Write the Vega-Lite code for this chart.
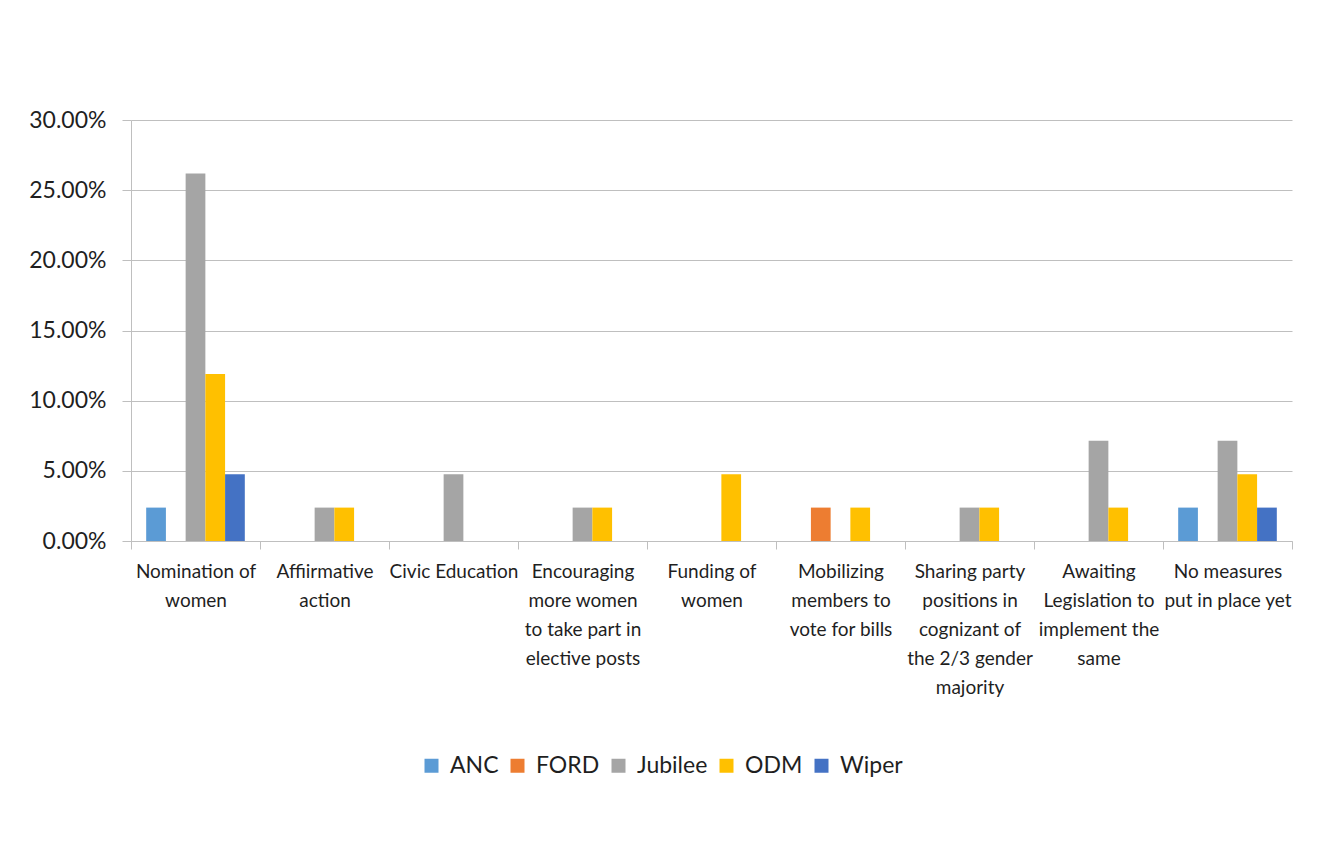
{
  "$schema": "https://vega.github.io/schema/vega-lite/v6.json",
  "width": 1161,
  "height": 421,
  "autosize": {"type": "none"},
  "padding": {"left": 131, "top": 120, "right": 51, "bottom": 300},
  "background": "white",
  "config": {"view": {"stroke": null}, "font": "Lato"},
  "data": {
    "values": [
      {"measure": "Nomination of women", "party": "ANC", "share": 0.0238},
      {"measure": "Nomination of women", "party": "Jubilee", "share": 0.2619},
      {"measure": "Nomination of women", "party": "ODM", "share": 0.119},
      {"measure": "Nomination of women", "party": "Wiper", "share": 0.0476},
      {"measure": "Affiirmative action", "party": "Jubilee", "share": 0.0238},
      {"measure": "Affiirmative action", "party": "ODM", "share": 0.0238},
      {"measure": "Civic Education", "party": "Jubilee", "share": 0.0476},
      {"measure": "Encouraging more women to take part in elective posts", "party": "Jubilee", "share": 0.0238},
      {"measure": "Encouraging more women to take part in elective posts", "party": "ODM", "share": 0.0238},
      {"measure": "Funding of women", "party": "ODM", "share": 0.0476},
      {"measure": "Mobilizing members to vote for bills", "party": "FORD", "share": 0.0238},
      {"measure": "Mobilizing members to vote for bills", "party": "ODM", "share": 0.0238},
      {"measure": "Sharing party positions in cognizant of the 2/3 gender majority", "party": "Jubilee", "share": 0.0238},
      {"measure": "Sharing party positions in cognizant of the 2/3 gender majority", "party": "ODM", "share": 0.0238},
      {"measure": "Awaiting Legislation to implement the same", "party": "Jubilee", "share": 0.0714},
      {"measure": "Awaiting Legislation to implement the same", "party": "ODM", "share": 0.0238},
      {"measure": "No measures put in place yet", "party": "ANC", "share": 0.0238},
      {"measure": "No measures put in place yet", "party": "Jubilee", "share": 0.0714},
      {"measure": "No measures put in place yet", "party": "ODM", "share": 0.0476},
      {"measure": "No measures put in place yet", "party": "Wiper", "share": 0.0238}
    ]
  },
  "mark": {"type": "bar"},
  "encoding": {
    "x": {
      "field": "measure",
      "type": "nominal",
      "sort": [
        "Nomination of women",
        "Affiirmative action",
        "Civic Education",
        "Encouraging more women to take part in elective posts",
        "Funding of women",
        "Mobilizing members to vote for bills",
        "Sharing party positions in cognizant of the 2/3 gender majority",
        "Awaiting Legislation to implement the same",
        "No measures put in place yet"
      ],
      "scale": {"paddingInner": 0, "paddingOuter": 0},
      "axis": {
        "title": null,
        "labelAngle": 0,
        "tickBand": "extent",
        "tickSize": 8,
        "tickColor": "#bfbfbf",
        "domainColor": "#bfbfbf",
        "labelFontSize": 19,
        "labelColor": "#1f1f1f",
        "labelBaseline": "top",
        "labelPadding": 13,
        "labelLineHeight": 29,
        "labelOverlap": false,
        "labelLimit": 200,
        "labelExpr": "{'Nomination of women': ['Nomination of', 'women'], 'Affiirmative action': ['Affiirmative', 'action'], 'Civic Education': ['Civic Education'], 'Encouraging more women to take part in elective posts': ['Encouraging', 'more women', 'to take part in', 'elective posts'], 'Funding of women': ['Funding of', 'women'], 'Mobilizing members to vote for bills': ['Mobilizing', 'members to', 'vote for bills'], 'Sharing party positions in cognizant of the 2/3 gender majority': ['Sharing party', 'positions in', 'cognizant of', 'the 2/3 gender', 'majority'], 'Awaiting Legislation to implement the same': ['Awaiting', 'Legislation to', 'implement the', 'same'], 'No measures put in place yet': ['No measures', 'put in place yet']}[datum.label]"
      }
    },
    "xOffset": {
      "field": "party",
      "type": "nominal",
      "scale": {"domain": ["ANC", "FORD", "Jubilee", "ODM", "Wiper"], "paddingInner": 0, "paddingOuter": 0.77}
    },
    "y": {
      "field": "share",
      "type": "quantitative",
      "scale": {"domain": [0, 0.3]},
      "axis": {
        "title": null,
        "values": [0, 0.05, 0.1, 0.15, 0.2, 0.25, 0.3],
        "format": ".2%",
        "tickSize": 9,
        "tickColor": "#bfbfbf",
        "gridColor": "#bfbfbf",
        "domainColor": "#bfbfbf",
        "labelFontSize": 23,
        "labelColor": "#1f1f1f",
        "labelPadding": 16
      }
    },
    "color": {
      "field": "party",
      "type": "nominal",
      "scale": {
        "domain": ["ANC", "FORD", "Jubilee", "ODM", "Wiper"],
        "range": ["#5B9BD5", "#ED7D31", "#A5A5A5", "#FFC000", "#4472C4"]
      },
      "legend": {
        "title": null,
        "orient": "none",
        "legendX": 289,
        "legendY": 634,
        "direction": "horizontal",
        "symbolType": "square",
        "symbolSize": 196,
        "symbolStrokeWidth": 0,
        "labelFontSize": 23,
        "labelColor": "#1f1f1f",
        "labelOffset": 7,
        "columnPadding": 7
      }
    }
  }
}
